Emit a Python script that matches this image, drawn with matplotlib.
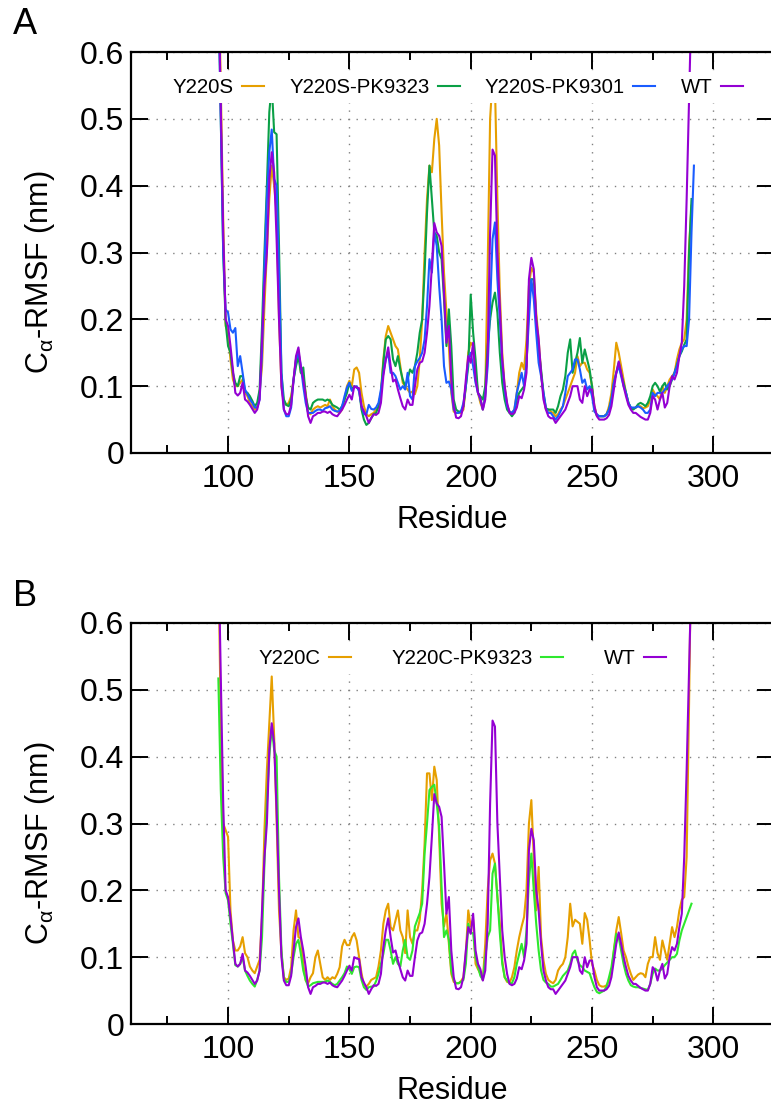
import numpy as np
import matplotlib
matplotlib.use("Agg")
import matplotlib.pyplot as plt
from matplotlib.ticker import MultipleLocator

plt.rcParams['font.family'] = ['Liberation Sans', 'DejaVu Sans']
plt.rcParams['mathtext.fontset'] = 'custom'
plt.rcParams['mathtext.rm'] = 'Liberation Sans'
plt.rcParams['mathtext.it'] = 'Liberation Sans:italic'

nan = np.nan
residues = np.arange(95, 293)

# Ca-RMSF (nm), one value per residue 95..292
wt = [
    0.95, 0.72, 0.52, 0.33, 0.20, 0.19, 0.16, 0.125, 0.09, 0.086,
    0.09, 0.105, 0.08, 0.077, 0.072, 0.066, 0.06, 0.065, 0.08, 0.17,
    0.25, 0.30, 0.41, 0.45, 0.42, 0.32, 0.20, 0.10, 0.065, 0.058,
    0.058, 0.072, 0.11, 0.145, 0.158, 0.13, 0.11, 0.085, 0.055, 0.045,
    0.055, 0.057, 0.06, 0.06, 0.062, 0.062, 0.06, 0.062, 0.058, 0.056,
    0.055, 0.06, 0.065, 0.072, 0.08, 0.087, 0.08, 0.10, 0.098, 0.097,
    0.07, 0.062, 0.055, 0.045, 0.052, 0.058, 0.057, 0.06, 0.075, 0.115,
    0.14, 0.158, 0.13, 0.107, 0.11, 0.095, 0.082, 0.07, 0.065, 0.08,
    0.072, 0.072, 0.10, 0.125, 0.135, 0.137, 0.15, 0.18, 0.22, 0.28,
    0.344, 0.33, 0.325, 0.31, 0.24, 0.165, 0.19, 0.11, 0.07, 0.053,
    0.052, 0.055, 0.07, 0.11, 0.145, 0.135, 0.165, 0.11, 0.09, 0.082,
    0.065, 0.08, 0.15, 0.33, 0.454, 0.445, 0.30, 0.22, 0.14, 0.10,
    0.075, 0.06, 0.058, 0.06, 0.068, 0.085, 0.082, 0.095, 0.12, 0.26,
    0.292, 0.275, 0.20, 0.17, 0.12, 0.08, 0.065, 0.055, 0.052, 0.052,
    0.045, 0.05, 0.055, 0.06, 0.065, 0.075, 0.085, 0.10, 0.10, 0.10,
    0.08, 0.075, 0.10, 0.085, 0.095, 0.095, 0.07, 0.055, 0.05, 0.05,
    0.05, 0.052, 0.057, 0.07, 0.095, 0.12, 0.137, 0.12, 0.10, 0.085,
    0.072, 0.065, 0.06, 0.06, 0.057, 0.054, 0.052, 0.05, 0.05, 0.06,
    0.085, 0.08, 0.065, 0.08, 0.09, 0.068, 0.075, 0.10, 0.115, 0.11,
    0.12, 0.145, 0.165, 0.25, 0.38, 0.53, 0.68, nan,
]

y220s = [
    1.0, 0.75, 0.55, 0.35, 0.19, 0.18, 0.14, 0.11, 0.10, 0.10,
    0.105, 0.11, 0.09, 0.085, 0.075, 0.07, 0.065, 0.07, 0.09, 0.13,
    0.22, 0.30, 0.38, 0.43, 0.40, 0.36, 0.20, 0.10, 0.075, 0.072,
    0.075, 0.085, 0.11, 0.14, 0.155, 0.12, 0.115, 0.09, 0.06, 0.058,
    0.065, 0.068, 0.07, 0.068, 0.07, 0.072, 0.07, 0.08, 0.07, 0.065,
    0.062, 0.06, 0.065, 0.08, 0.10, 0.108, 0.10, 0.125, 0.128, 0.12,
    0.09, 0.07, 0.058, 0.055, 0.058, 0.06, 0.065, 0.068, 0.09, 0.14,
    0.175, 0.19, 0.18, 0.17, 0.16, 0.155, 0.13, 0.105, 0.10, 0.095,
    0.09, 0.092, 0.088, 0.10, 0.14, 0.20, 0.30, 0.38, 0.43, 0.42,
    0.47, 0.50, 0.46, 0.36, 0.27, 0.21, 0.16, 0.09, 0.062, 0.06,
    0.06, 0.06, 0.065, 0.10, 0.15, 0.165, 0.16, 0.12, 0.09, 0.075,
    0.065, 0.09, 0.28, 0.50, 0.56, 0.55, 0.38, 0.24, 0.15, 0.10,
    0.072, 0.062, 0.06, 0.065, 0.09, 0.12, 0.135, 0.125, 0.17, 0.25,
    0.277, 0.27, 0.21, 0.17, 0.12, 0.085, 0.065, 0.065, 0.062, 0.06,
    0.055, 0.058, 0.065, 0.07, 0.08, 0.09, 0.10, 0.11, 0.12, 0.145,
    0.13, 0.135, 0.135, 0.125, 0.12, 0.10, 0.07, 0.056, 0.055, 0.055,
    0.055, 0.058, 0.07, 0.09, 0.125, 0.165, 0.15, 0.13, 0.11, 0.09,
    0.075, 0.067, 0.067, 0.068, 0.07, 0.07, 0.067, 0.068, 0.07, 0.08,
    0.095, 0.088, 0.085, 0.08, 0.10, 0.09, 0.10, 0.11, 0.115, 0.12,
    0.14, 0.155, 0.165, 0.17, 0.20, 0.31, 0.37, nan,
]

y220s_pk9323 = [
    0.95, 0.70, 0.50, 0.30, 0.195, 0.16, 0.15, 0.12, 0.105, 0.10,
    0.115, 0.115, 0.092, 0.09, 0.085, 0.078, 0.07, 0.075, 0.095, 0.19,
    0.30, 0.40, 0.51, 0.55, 0.48, 0.477, 0.31, 0.12, 0.08, 0.072,
    0.07, 0.08, 0.11, 0.13, 0.145, 0.12, 0.128, 0.085, 0.068, 0.065,
    0.075, 0.078, 0.08, 0.08, 0.08, 0.078, 0.08, 0.078, 0.072, 0.07,
    0.068, 0.065, 0.07, 0.08, 0.09, 0.105, 0.095, 0.10, 0.098, 0.095,
    0.065, 0.05, 0.042, 0.045, 0.052, 0.058, 0.06, 0.07, 0.09, 0.135,
    0.17, 0.175, 0.17, 0.14, 0.13, 0.145, 0.125, 0.11, 0.10, 0.11,
    0.125, 0.12, 0.13, 0.15, 0.18, 0.20, 0.27, 0.36, 0.43, 0.38,
    0.33, 0.325, 0.30, 0.29, 0.23, 0.16, 0.215, 0.16, 0.08, 0.065,
    0.062, 0.062, 0.07, 0.10, 0.13, 0.237, 0.18, 0.14, 0.09, 0.085,
    0.08, 0.10, 0.16, 0.20, 0.225, 0.24, 0.21, 0.15, 0.105, 0.08,
    0.065, 0.06, 0.055, 0.06, 0.08, 0.09, 0.095, 0.10, 0.13, 0.23,
    0.26, 0.26, 0.20, 0.155, 0.125, 0.09, 0.067, 0.065, 0.065, 0.065,
    0.06, 0.07, 0.085, 0.095, 0.115, 0.15, 0.17, 0.12, 0.135, 0.15,
    0.172, 0.135, 0.155, 0.14, 0.125, 0.10, 0.065, 0.056, 0.055, 0.055,
    0.055, 0.058, 0.065, 0.08, 0.105, 0.12, 0.135, 0.118, 0.105, 0.09,
    0.075, 0.068, 0.065, 0.068, 0.073, 0.075, 0.073, 0.07, 0.075, 0.085,
    0.10, 0.105, 0.10, 0.092, 0.10, 0.105, 0.095, 0.10, 0.11, 0.12,
    0.132, 0.145, 0.152, 0.162, 0.17, 0.30, 0.38, nan,
]

y220s_pk9301 = [
    0.95, 0.70, 0.50, 0.30, 0.215, 0.21, 0.185, 0.18, 0.187, 0.13,
    0.145, 0.12, 0.095, 0.088, 0.08, 0.075, 0.068, 0.068, 0.08, 0.15,
    0.28, 0.38, 0.45, 0.484, 0.41, 0.40, 0.27, 0.12, 0.065, 0.055,
    0.055, 0.068, 0.11, 0.14, 0.15, 0.13, 0.10, 0.075, 0.06, 0.06,
    0.06, 0.063, 0.065, 0.065, 0.063, 0.067, 0.068, 0.07, 0.065, 0.063,
    0.062, 0.063, 0.07, 0.085, 0.098, 0.105, 0.093, 0.098, 0.10, 0.092,
    0.07, 0.058, 0.058, 0.072, 0.066, 0.065, 0.068, 0.075, 0.095, 0.12,
    0.14, 0.15, 0.12, 0.12, 0.115, 0.105, 0.095, 0.10, 0.095, 0.12,
    0.085, 0.08, 0.13, 0.137, 0.142, 0.15, 0.17, 0.22, 0.29, 0.27,
    0.33, 0.31, 0.25, 0.20, 0.13, 0.105, 0.107, 0.095, 0.065, 0.06,
    0.06, 0.062, 0.075, 0.10, 0.14, 0.15, 0.13, 0.105, 0.09, 0.08,
    0.065, 0.085, 0.13, 0.22, 0.32, 0.345, 0.26, 0.20, 0.135, 0.095,
    0.07, 0.062, 0.06, 0.065, 0.09, 0.105, 0.12, 0.10, 0.135, 0.20,
    0.26, 0.23, 0.18, 0.135, 0.115, 0.09, 0.067, 0.06, 0.06, 0.055,
    0.05, 0.055, 0.062, 0.07, 0.09, 0.115, 0.12, 0.125, 0.14, 0.14,
    0.125, 0.105, 0.11, 0.095, 0.10, 0.085, 0.062, 0.058, 0.055, 0.055,
    0.055, 0.058, 0.065, 0.08, 0.105, 0.12, 0.13, 0.115, 0.10, 0.09,
    0.075, 0.068, 0.068, 0.068, 0.07, 0.068, 0.065, 0.06, 0.06, 0.065,
    0.09, 0.085, 0.09, 0.09, 0.09, 0.095, 0.10, 0.105, 0.11, 0.12,
    0.13, 0.145, 0.155, 0.16, 0.16, 0.20, 0.33, 0.43,
]

y220c = [
    1.0, 0.70, 0.45, 0.30, 0.29, 0.28, 0.17, 0.125, 0.11, 0.11,
    0.116, 0.13, 0.106, 0.10, 0.086, 0.08, 0.076, 0.086, 0.096, 0.16,
    0.29, 0.38, 0.45, 0.52, 0.43, 0.305, 0.17, 0.106, 0.07, 0.066,
    0.068, 0.085, 0.14, 0.17, 0.13, 0.128, 0.09, 0.065, 0.061, 0.07,
    0.076, 0.10, 0.11, 0.09, 0.07, 0.066, 0.07, 0.066, 0.07, 0.068,
    0.075, 0.085, 0.116, 0.126, 0.118, 0.118, 0.13, 0.136, 0.125, 0.10,
    0.076, 0.058, 0.056, 0.06, 0.066, 0.068, 0.07, 0.086, 0.11, 0.15,
    0.17, 0.18, 0.145, 0.14, 0.155, 0.17, 0.14, 0.13, 0.106, 0.17,
    0.13, 0.12, 0.14, 0.14, 0.156, 0.20, 0.27, 0.375, 0.375, 0.335,
    0.385, 0.365, 0.28, 0.18, 0.146, 0.166, 0.12, 0.075, 0.063, 0.061,
    0.061, 0.064, 0.07, 0.106, 0.17, 0.146, 0.156, 0.09, 0.082, 0.075,
    0.066, 0.12, 0.20, 0.245, 0.255, 0.24, 0.19, 0.15, 0.095, 0.07,
    0.063, 0.062, 0.07, 0.085, 0.11, 0.13, 0.146, 0.16, 0.20, 0.30,
    0.335, 0.25, 0.17, 0.235, 0.13, 0.095, 0.075, 0.066, 0.063, 0.061,
    0.066, 0.08, 0.086, 0.09, 0.10, 0.13, 0.18, 0.146, 0.156, 0.153,
    0.15, 0.12, 0.166, 0.156, 0.126, 0.09, 0.08, 0.066, 0.058, 0.056,
    0.056, 0.058, 0.065, 0.076, 0.11, 0.14, 0.16, 0.136, 0.11, 0.10,
    0.086, 0.075, 0.066, 0.07, 0.074, 0.076, 0.075, 0.07, 0.09, 0.10,
    0.10, 0.13, 0.106, 0.096, 0.125, 0.11, 0.096, 0.12, 0.145, 0.13,
    0.145, 0.17, 0.186, 0.19, 0.25, 0.48, 0.75, nan,
]

y220c_pk9323 = [
    nan, 0.517, 0.35, 0.25, 0.196, 0.185, 0.15, 0.12, 0.088, 0.086,
    0.09, 0.10, 0.08, 0.072, 0.065, 0.06, 0.056, 0.066, 0.08, 0.13,
    0.24, 0.33, 0.40, 0.445, 0.41, 0.40, 0.22, 0.11, 0.068, 0.063,
    0.063, 0.075, 0.10, 0.12, 0.126, 0.105, 0.08, 0.066, 0.056, 0.058,
    0.061, 0.062, 0.063, 0.063, 0.063, 0.063, 0.065, 0.063, 0.06, 0.058,
    0.06, 0.065, 0.07, 0.076, 0.086, 0.082, 0.075, 0.085, 0.086, 0.085,
    0.066, 0.055, 0.051, 0.055, 0.056, 0.056, 0.064, 0.075, 0.09, 0.105,
    0.126, 0.126, 0.11, 0.09, 0.10, 0.09, 0.086, 0.11, 0.126, 0.10,
    0.096, 0.11, 0.146, 0.156, 0.166, 0.18, 0.255, 0.30, 0.35, 0.355,
    0.358, 0.33, 0.295, 0.205, 0.13, 0.14, 0.126, 0.08, 0.066, 0.061,
    0.061, 0.063, 0.066, 0.09, 0.15, 0.136, 0.136, 0.10, 0.086, 0.072,
    0.066, 0.10, 0.13, 0.14, 0.225, 0.24, 0.19, 0.136, 0.09, 0.07,
    0.065, 0.061, 0.061, 0.07, 0.09, 0.105, 0.12, 0.10, 0.14, 0.215,
    0.255, 0.20, 0.15, 0.11, 0.08, 0.066, 0.062, 0.06, 0.056, 0.056,
    0.058, 0.06, 0.066, 0.072, 0.076, 0.08, 0.09, 0.105, 0.11, 0.095,
    0.088, 0.085, 0.08, 0.078, 0.076, 0.065, 0.055, 0.048, 0.046, 0.048,
    0.05, 0.056, 0.07, 0.085, 0.11, 0.135, 0.13, 0.11, 0.09, 0.075,
    0.065, 0.058, 0.056, 0.055, 0.055, 0.054, 0.053, 0.052, 0.051, 0.06,
    0.075, 0.083, 0.08, 0.08, 0.083, 0.088, 0.092, 0.096, 0.10, 0.10,
    0.105, 0.125, 0.14, 0.15, 0.16, 0.17, 0.18, nan,
]

panel_a = [("Y220S", y220s, "#e69f00"),
           ("Y220S-PK9323", y220s_pk9323, "#0aa046"),
           ("Y220S-PK9301", y220s_pk9301, "#1a5cff"),
           ("WT", wt, "#9400d3")]
panel_b = [("Y220C", y220c, "#e69f00"),
           ("Y220C-PK9323", y220c_pk9323, "#2ee82e"),
           ("WT", wt, "#9400d3")]

for _, vals, _ in panel_a + panel_b:
    assert len(vals) == len(residues)

W, H = 771, 1108
fig = plt.figure(figsize=(W / 100, H / 100), dpi=100)


def draw_panel(top_px, series, letter, leg_xy, colspace):
    left, right, bot = 131, 774, top_px + 401
    ax = fig.add_axes([left / W, 1 - bot / H, (right - left) / W, 401 / H])
    for name, vals, col in series:
        ax.plot(residues, vals, color=col, lw=1.5, label=name)
    ax.set_xlim(60, 325)
    ax.set_ylim(0, 0.6)
    ax.xaxis.set_major_locator(MultipleLocator(50))
    ax.xaxis.set_minor_locator(MultipleLocator(25))
    ax.set_yticks(np.arange(0, 0.61, 0.1))
    ax.set_yticklabels(["0", "0.1", "0.2", "0.3", "0.4", "0.5", "0.6"])
    ax.tick_params(which='both', direction='in', top=True, right=True,
                   labelsize=23, width=1.4)
    ax.tick_params(which='major', length=12)
    ax.tick_params(which='minor', length=6)
    ax.tick_params(axis='x', pad=8)
    ax.tick_params(axis='y', pad=5)
    for sp in ax.spines.values():
        sp.set_linewidth(1.6)
    ax.grid(True, which='major', color='#808080', lw=1.0,
            linestyle=(0, (1, 5)))
    ax.set_xlabel("Residue", fontsize=22, va='center')
    ax.xaxis.set_label_coords(0.5, -0.167)
    ax.set_ylabel(r"C$_{\mathrm{\alpha}}$-RMSF (nm)", fontsize=22, va='center')
    ax.yaxis.set_label_coords(-0.1415, 0.45)
    ax.legend(loc='center', bbox_to_anchor=leg_xy, ncol=len(series),
              markerfirst=False, frameon=True, fancybox=False, framealpha=1,
              facecolor='white', edgecolor='none', fontsize=14.7,
              handlelength=1.08, handletextpad=0.4, columnspacing=colspace,
              borderpad=0.3, borderaxespad=0)
    fig.text(25 / W, 1 - (top_px - 27) / H, letter, fontsize=26,
             ha='center', va='center')
    return ax


draw_panel(52, panel_a, "A", (0.508, 0.912), 1.24)
draw_panel(623, panel_b, "B", (0.5155, 0.912), 2.0)

fig.savefig("out.png", dpi=100)
